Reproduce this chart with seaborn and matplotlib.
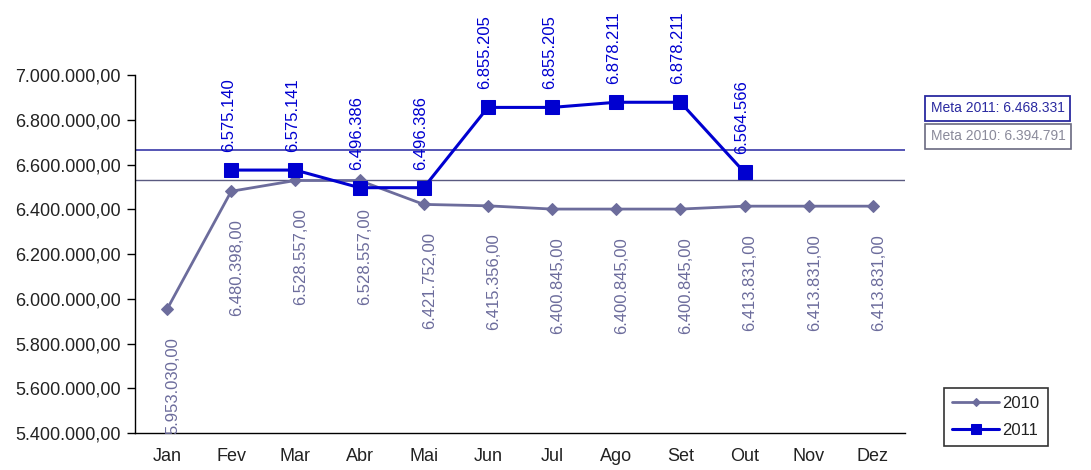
import numpy as np
import pandas as pd
import matplotlib
matplotlib.use("Agg")
import matplotlib.pyplot as plt
import seaborn as sns

# ---- data ----
MONTHS = ['Jan', 'Fev', 'Mar', 'Abr', 'Mai', 'Jun', 'Jul', 'Ago', 'Set', 'Out', 'Nov', 'Dez']

VALS_2010 = [5953030, 6480398, 6528557, 6528557, 6421752, 6415356,
             6400845, 6400845, 6400845, 6413831, 6413831, 6413831]

MONTHS_2011 = ['Fev', 'Mar', 'Abr', 'Mai', 'Jun', 'Jul', 'Ago', 'Set', 'Out']
VALS_2011 = [6575140, 6575141, 6496386, 6496386, 6855205, 6855205, 6878211, 6878211, 6564566]

# target lines (drawn where they sit in the picture)
META_LINE_2011 = 6665000
META_LINE_2010 = 6531000
META_TEXT_2011 = 'Meta 2011: 6.468.331'
META_TEXT_2010 = 'Meta 2010: 6.394.791'

C2010 = '#6c6c9c'
C2011 = '#0000d0'
TXT = '#222222'


def br(v, dec=True):
    s = f"{v:,.0f}".replace(',', '.')
    return s + ',00' if dec else s


sns.set_style("white")
plt.rcParams['font.family'] = ['Liberation Sans', 'DejaVu Sans']

df10 = pd.DataFrame({'x': range(len(MONTHS)), 'v': VALS_2010})
df11 = pd.DataFrame({'x': [MONTHS.index(m) for m in MONTHS_2011], 'v': VALS_2011})

fig = plt.figure(figsize=(10.91, 4.70), dpi=100)
ax = fig.add_axes([0.1237, 0.0787, 0.7058, 0.7617])

ax.axhline(META_LINE_2011, color='#3838a8', lw=1.2, zorder=1)
ax.axhline(META_LINE_2010, color='#5a5a80', lw=1.0, zorder=1)

sns.lineplot(data=df10, x='x', y='v', ax=ax, color=C2010, lw=2, marker='D',
             markersize=6.5, markeredgecolor=C2010, label='2010', zorder=3)
sns.lineplot(data=df11, x='x', y='v', ax=ax, color=C2011, lw=2.2, marker='s',
             markersize=10, markeredgecolor=C2011, label='2011', zorder=4)

for x, v in zip(df10['x'], df10['v']):
    ax.annotate(br(v), (x, v), xytext=(4, -20), textcoords='offset points',
                rotation=90, ha='center', va='top', fontsize=12, color=C2010,
                annotation_clip=False)
for x, v in zip(df11['x'], df11['v']):
    ax.annotate(br(v, dec=False), (x, v), xytext=(-2, 13), textcoords='offset points',
                rotation=90, ha='center', va='bottom', fontsize=12, color=C2011,
                annotation_clip=False)

ax.set_xlim(-0.5, 11.5)
ax.set_ylim(5400000, 7000000)
yt = np.arange(5400000, 7000001, 200000)
ax.set_yticks(yt)
ax.set_yticklabels([br(t) for t in yt], fontsize=13, color=TXT)
ax.set_xticks(range(len(MONTHS)))
ax.set_xticklabels(MONTHS, fontsize=13, color=TXT)
ax.set_xticks(np.arange(-0.5, 12, 1), minor=True)
ax.tick_params(axis='x', which='major', length=0, pad=11)
ax.tick_params(axis='x', which='minor', length=6, width=1, direction='out', color='black')
ax.tick_params(axis='y', length=6, width=1, direction='out', color='black', left=True, pad=4)
ax.set_xlabel('')
ax.set_ylabel('')
for s in ['top', 'right']:
    ax.spines[s].set_visible(False)
for s in ['left', 'bottom']:
    ax.spines[s].set_color('black')
    ax.spines[s].set_linewidth(1)

leg = ax.legend(loc='lower left', bbox_to_anchor=(1.04, -0.06), frameon=True,
                fancybox=False, edgecolor='black', fontsize=12, handlelength=2.8,
                borderpad=0.5, labelspacing=0.7, handletextpad=0.2, markerscale=0.7)
leg.get_frame().set_linewidth(1.2)
for t in leg.get_texts():
    t.set_color(TXT)

fig.text(0.853, 0.77, META_TEXT_2011, fontsize=10, color='#2a2aa0', va='center',
         bbox=dict(boxstyle='square,pad=0.4', fc='white', ec='#2a2aa0', lw=1.3))
fig.text(0.853, 0.71, META_TEXT_2010, fontsize=10, color='#8a8a9a', va='center',
         bbox=dict(boxstyle='square,pad=0.4', fc='white', ec='#6a6a80', lw=1.2))

fig.savefig('out.png', dpi=100)
